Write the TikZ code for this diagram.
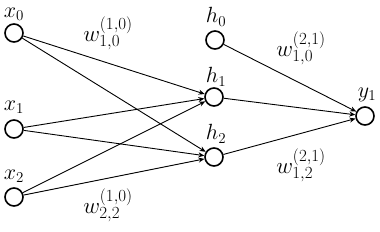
\RequirePackage{fix-cm}
\documentclass[tikz,border=0pt]{standalone}
\usetikzlibrary{arrows.meta}
\DeclareMathSizes{22}{22}{15}{11}
\DeclareMathSizes{23}{23}{17}{12}
\begin{document}
\begin{tikzpicture}[x=1pt,y=-1pt,
  neuron/.style={circle,draw,line width=1.6pt,minimum size=18pt,inner sep=0pt},
  lbl/.style={font=\fontsize{22}{26}\selectfont,inner sep=0pt},
  wlbl/.style={font=\fontsize{23}{27}\selectfont,inner sep=0pt},
  aedge/.style={line width=0.9pt,-{Stealth[length=6pt,width=5pt]}}]
\useasboundingbox (0,0) rectangle (380,231);
\node[neuron] (x0) at (14,33) {};
\node[neuron] (x1) at (14,129) {};
\node[neuron] (x2) at (14,197) {};
\node[neuron] (h0) at (215,40) {};
\node[neuron] (h1) at (214,97) {};
\node[neuron] (h2) at (214,157) {};
\node[neuron] (y1) at (365,116) {};
\node[lbl] (lx0) at (14,14.5) {$x_0$};
\node[lbl] (lx1) at (14,107) {$x_1$};
\node[lbl] (lx2) at (14,176) {$x_2$};
\node[lbl] (lh0) at (216,17) {$h_0$};
\node[lbl] (lh1) at (216,77) {$h_1$};
\node[lbl] (lh2) at (216,134) {$h_2$};
\node[lbl] (ly1) at (367,95) {$y_1$};
\node[wlbl] (w1) at (108,33) {$w_{1,0}^{(1,0)}$};
\node[wlbl] (w2) at (108,205) {$w_{2,2}^{(1,0)}$};
\node[wlbl] (w3) at (301,48) {$w_{1,0}^{(2,1)}$};
\node[wlbl] (w4) at (301,165) {$w_{1,2}^{(2,1)}$};
\foreach \s in {x0,x1,x2}{
  \draw[aedge] (\s) -- (h1);
  \draw[aedge] (\s) -- (h2);
}
\foreach \s in {h0,h1,h2}{
  \draw[aedge] (\s) -- (y1);
}
\end{tikzpicture}
\end{document}
